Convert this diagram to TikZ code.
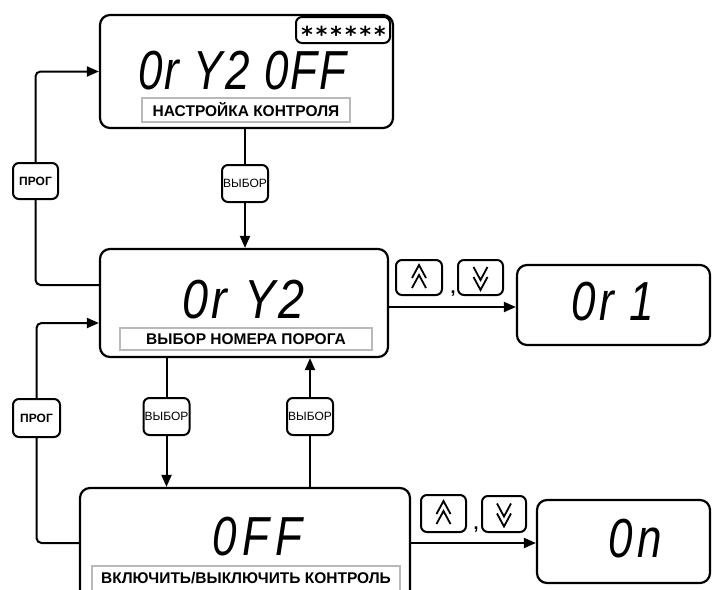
\documentclass[tikz,border=0pt]{standalone}
\usepackage{fontspec}
\setmainfont{Liberation Sans}
\newfontfamily\starfont{DejaVu Sans}
\usetikzlibrary{arrows.meta}
\newcommand\mychevup[1]{%
  \draw[chev] ([shift={(-7,0.5)}]#1.center) -- ([shift={(0,-12.5)}]#1.center) -- ([shift={(7,0.5)}]#1.center);
  \draw[chev] ([shift={(-7,10.5)}]#1.center) -- ([shift={(0,-2.5)}]#1.center) -- ([shift={(7,10.5)}]#1.center);}
\newcommand\mychevdown[1]{%
  \draw[chev] ([shift={(-7,-0.5)}]#1.center) -- ([shift={(0,12.5)}]#1.center) -- ([shift={(7,-0.5)}]#1.center);
  \draw[chev] ([shift={(-7,-10.5)}]#1.center) -- ([shift={(0,2.5)}]#1.center) -- ([shift={(7,-10.5)}]#1.center);}
\newcommand\segtext[3]{\scalebox{#1}[1]{\addfontfeatures{LetterSpace=#2}#3}}
\begin{document}
\begin{tikzpicture}[x=1pt,y=-1pt,
  disp/.style={draw, line width=2.2pt, rounded corners=10pt, fill=white, inner sep=0pt},
  lbl/.style={draw=gray!55, line width=1.3pt, inner sep=0pt, font=\fontsize{15.5}{15.5}\selectfont\bfseries},
  btn/.style={draw, line width=2pt, rounded corners=6pt, fill=white, inner sep=0pt, minimum width=46pt, minimum height=37pt},
  btntxt/.style={btn, font=\fontsize{12}{12}\selectfont},
  progtxt/.style={btn, font=\fontsize{12}{12}\selectfont\bfseries},
  conn/.style={line width=2pt, rounded corners=5pt},
  arr/.style={conn, -{Triangle[length=12pt,width=10pt]}},
  chev/.style={line width=1.8pt, line join=miter},
  seg/.style={font=\fontsize{55}{55}\selectfont\itshape, inner sep=0pt},
  comma/.style={font=\fontsize{18}{18}\selectfont\bfseries, inner sep=0pt},
  ]
\useasboundingbox (0,0) rectangle (720,589);
\clip (0,0) rectangle (720,589);

% display boxes
\node[disp, minimum width=293pt, minimum height=113pt] (top) at (246.5,71.5) {};
\node[disp, minimum width=288pt, minimum height=108pt] (mid) at (244,303) {};
\node[disp, minimum width=330pt, minimum height=122pt] (bot) at (245,549) {};
\node[disp, minimum width=193pt, minimum height=80pt] (or1) at (613.5,305) {};
\node[disp, minimum width=173pt, minimum height=83pt] (on) at (623.5,541.5) {};

% stars box
\node[draw, line width=2pt, rounded corners=6pt, inner sep=0pt, minimum width=94pt, minimum height=26pt] (stars) at (343,30) {};
\node[anchor=base, inner sep=0pt, font=\fontsize{22}{22}\starfont\bfseries\addfontfeatures{LetterSpace=14}] (startxt) at (343.5,42.5) {******};

% segment readouts
\node[seg] (d1) at (242.5,71) {\segtext{0.8}{5}{0r Y2 0FF}};
\node[seg] (d2) at (243.5,300) {\segtext{0.85}{8}{0r Y2}};
\node[seg] (d3) at (612.5,301.5) {\segtext{0.8}{8}{0r 1}};
\node[seg] (d4) at (257.5,537) {\segtext{0.8}{14}{0FF}};
\node[seg] (d5) at (635,538.5) {\segtext{0.8}{10}{0n}};

% labels
\node[lbl, minimum width=208pt, minimum height=24pt] (l1) at (246,110) {НАСТРОЙКА КОНТРОЛЯ};
\node[lbl, minimum width=252pt, minimum height=22pt] (l2) at (246,339) {ВЫБОР НОМЕРА ПОРОГА};
\node[lbl, minimum width=308pt, minimum height=34pt] (l3box) at (246,583) {};
\node[inner sep=0pt, font=\fontsize{15.5}{15.5}\selectfont\bfseries] (l3) at (246,578) {ВКЛЮЧИТЬ/ВЫКЛЮЧИТЬ КОНТРОЛЬ};

% buttons
\node[btntxt] (b1) at (245,183.5) {ВЫБОР};
\node[btntxt] (b2) at (166.5,416.5) {ВЫБОР};
\node[btntxt] (b3) at (310,416.5) {ВЫБОР};
\node[progtxt, minimum width=45pt, minimum height=36pt] (p1) at (35.5,181) {ПРОГ};
\node[progtxt, minimum width=47pt, minimum height=38pt] (p2) at (36.5,418) {ПРОГ};

% up/down keys
\node[btn, minimum width=46pt, minimum height=35pt] (u1) at (419,277.5) {};
\node[btn, minimum width=45pt, minimum height=35pt] (k1) at (480.5,277.5) {};
\node[btn, minimum width=45pt, minimum height=37pt] (u2) at (443.5,513.5) {};
\node[btn, minimum width=44pt, minimum height=36pt] (k2) at (504,514) {};
\mychevup{u1}
\mychevdown{k1}
\mychevup{u2}
\mychevdown{k2}
\node[comma] (c1) at (453,294) {,};
\node[comma] (c2) at (476,530) {,};

% connectors
\draw[conn] (top.south -| b1) -- (b1.north);
\draw[arr] (b1.south) -- (mid.north -| b1);
\draw[conn] ([yshift=18pt]mid.west) -| (p1.south);
\draw[arr] (p1.north) |- (top.west);
\draw[conn] ([yshift=6pt]bot.west) -| (p2.south);
\draw[arr] (p2.north) |- ([yshift=-20pt]mid.west);
\draw[conn] (mid.south -| b2) -- (b2.north);
\draw[arr] (b2.south) -- (bot.north -| b2);
\draw[conn] (bot.north -| b3) -- (b3.south);
\draw[arr] (b3.north) -- (mid.south -| b3);
\draw[arr] ([yshift=-4pt]mid.east) -- ([yshift=-4pt]mid.east -| or1.west);
\draw[arr] ([yshift=6pt]bot.east) -- ([yshift=6pt]bot.east -| on.west);
\end{tikzpicture}
\end{document}
